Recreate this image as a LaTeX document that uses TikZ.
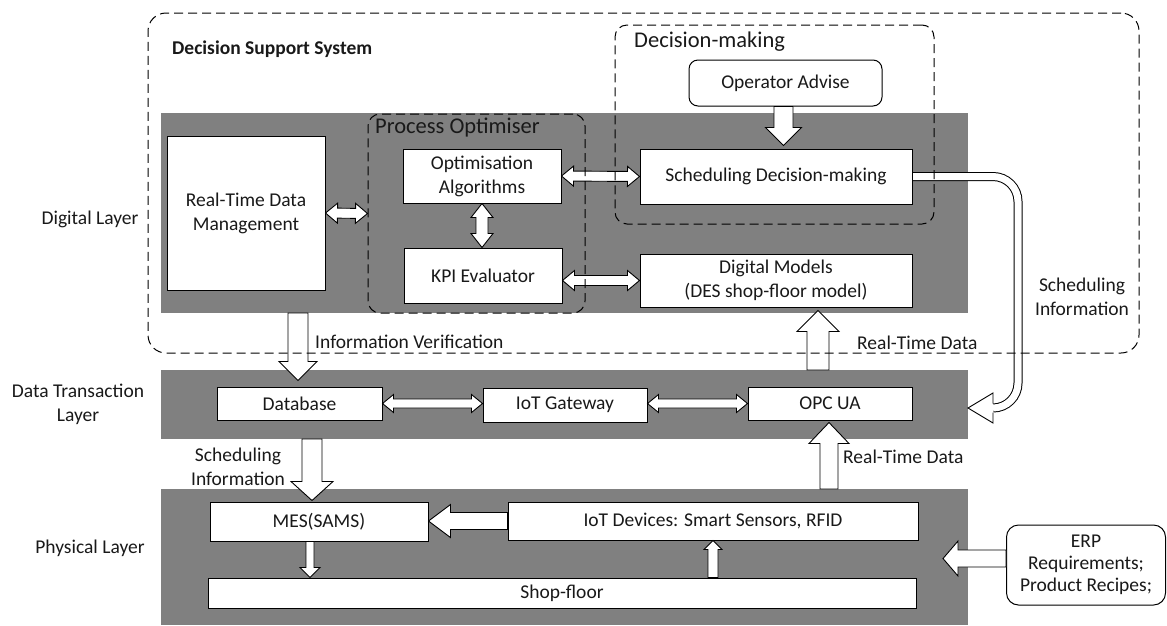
\documentclass[tikz,border=0pt]{standalone}
\usepackage{fontspec}
\setmainfont{Carlito}
\usetikzlibrary{calc}
\definecolor{bandgrey}{RGB}{128,128,128}
\newcommand\txtsz{\fontsize{19.5}{24}\selectfont}
\newcommand\ttlsz{\fontsize{22.5}{27}\selectfont}
\pgfdeclarelayer{front}
\pgfsetlayers{main,front}

% single block arrow: tail #1, tip #2, shaft half-width #3, head half-width #4, head length #5
\newcommand\blkarrow[5]{%
  \path ($(#2)!#5!(#1)$) coordinate (sac);
  \draw[blockarrow] ($(#1)!#3!90:(#2)$) -- ($(sac)!#3!90:(#2)$) -- ($(sac)!#4!90:(#2)$)
    -- (#2) -- ($(sac)!#4!-90:(#2)$) -- ($(sac)!#3!-90:(#2)$) -- ($(#1)!#3!-90:(#2)$) -- cycle;
}
% double-headed block arrow between #1 and #2
\newcommand\dblarrow[5]{%
  \path ($(#1)!#5!(#2)$) coordinate (dac1) ($(#2)!#5!(#1)$) coordinate (dac2);
  \draw[blockarrow] (#1) -- ($(dac1)!#4!90:(#2)$) -- ($(dac1)!#3!90:(#2)$) -- ($(dac2)!#3!90:(#2)$)
    -- ($(dac2)!#4!90:(#2)$) -- (#2) -- ($(dac2)!#4!-90:(#2)$) -- ($(dac2)!#3!-90:(#2)$)
    -- ($(dac1)!#3!-90:(#2)$) -- ($(dac1)!#4!-90:(#2)$) -- cycle;
}

\begin{document}
\begin{tikzpicture}[x=1pt,y=-1pt,
  band/.style={fill=bandgrey,draw=none,inner sep=0pt,outer sep=0pt},
  box/.style={draw=black,fill=white,line width=1pt,inner sep=0pt,align=center,font=\txtsz,text=black!90},
  roundbox/.style={box,rounded corners=9pt},
  frame/.style={draw=black,line width=1pt,dash pattern=on 9pt off 5pt,inner sep=0pt,rounded corners=#1},
  frame/.default=12pt,
  blockarrow/.style={draw=black,fill=white,line width=0.9pt,line join=miter},
  lbl/.style={font=\txtsz,inner sep=0pt,align=center,text=black!90},
]
\useasboundingbox (0,0) rectangle (1167,625);

% layer bands
\node[band,minimum width=807pt,minimum height=200pt] (dig) at (564.5,213) {};
\node[band,minimum width=807pt,minimum height=69pt] (dt) at (564.5,404.5) {};
\node[band,minimum width=807pt,minimum height=136pt] (phy) at (564.5,557) {};

% layer names
\node[lbl] (ldig) at (90,219) {Digital Layer};
\node[lbl] (ldt) at (78,404) {Data Transaction\\Layer};
\node[lbl] (lphy) at (90,548) {Physical Layer};

% dashed groupings (kept on top)
\begin{pgfonlayer}{front}
\node[frame=18pt,minimum width=991pt,minimum height=340pt] (dss) at (643.5,183) {};
\node[frame,minimum width=319pt,minimum height=199pt] (dmk) at (774.5,124.5) {};
\node[frame,minimum width=217pt,minimum height=199pt] (popt) at (476.5,213.5) {};
\end{pgfonlayer}
\node[anchor=west,font=\bfseries\txtsz,inner sep=0pt,text=black!90] (dsslbl) at (172,49) {Decision Support System};
\node[anchor=west,font=\ttlsz,inner sep=0pt,text=black!90] (poptlbl) at (375,128) {Process Optimiser};
\node[anchor=west,font=\ttlsz,inner sep=0pt,text=black!90] (dmklbl) at (634,42) {Decision-making};

% digital layer
\node[box,minimum width=158pt,minimum height=154pt] (rtdm) at (246,213) {Real-Time Data\\Management};
\node[box,minimum width=158pt,minimum height=54pt] (opt) at (482,176) {Optimisation\\Algorithms};
\node[box,minimum width=158pt,minimum height=55pt] (kpi) at (483,275.5) {KPI Evaluator};
\node[roundbox,minimum width=193pt,minimum height=46pt] (op) at (785.5,83) {Operator Advise};
\node[box,minimum width=272pt,minimum height=55pt] (sdm) at (776,176.5) {Scheduling Decision-making};
\node[box,minimum width=272pt,minimum height=53pt] (dm) at (776,280.5) {Digital Models\\(DES shop-floor model)};

% data transaction layer
\node[box,minimum width=165pt,minimum height=33pt] (db) at (299.5,403.5) {Database};
\node[box,minimum width=164pt,minimum height=34pt] (gw) at (565,405) {IoT Gateway};
\node[box,minimum width=164pt,minimum height=33pt] (opc) at (830,403.5) {OPC UA};

% physical layer
\node[box,minimum width=218pt,minimum height=39pt] (mes) at (319,521.5) {MES(SAMS)};
\node[box,minimum width=410pt,minimum height=38pt] (iot) at (713,521) {IoT Devices: Smart Sensors, RFID};
\node[box,minimum width=708pt,minimum height=30pt] (sf) at (562,593) {Shop-floor};
\node[roundbox,rounded corners=12pt,minimum width=159pt,minimum height=80pt,font=\fontsize{19.5}{22}\selectfont] (erp) at (1086,565) {ERP\\Requirements;\\Product Recipes;};

% two-way links
\dblarrow{rtdm.east}{popt.west}{5pt}{10pt}{12pt}
\coordinate (okB) at (opt.south |- kpi.north);
\dblarrow{opt.south}{okB}{6pt}{11pt}{14pt}
\dblarrow{opt.east}{sdm.west}{5pt}{10pt}{12pt}
\coordinate (kdA) at (kpi.east |- dm.west);
\dblarrow{kdA}{dm.west}{5pt}{10pt}{12pt}
\coordinate (dgB) at (db.east -| gw.west);
\dblarrow{db.east}{dgB}{4.5pt}{9pt}{11pt}
\coordinate (goA) at (opc.west -| gw.east);
\dblarrow{goA}{opc.west}{4.5pt}{9pt}{11pt}

% one-way flows
\coordinate (oaA) at ($(op.south)+(-2,0)$);
\coordinate (oaB) at ($(oaA |- sdm.north)+(0,-3)$);
\blkarrow{oaA}{oaB}{9.5pt}{18pt}{18pt}
\coordinate (ivA) at ($(dig.south -| db.north)+(-1.5,0)$);
\coordinate (ivB) at ($(db.north)+(-1.5,-6)$);
\blkarrow{ivA}{ivB}{10pt}{19pt}{19pt}
\coordinate (rtuA) at ($(dt.north -| dm.south)+(42,0)$);
\coordinate (rtuB) at ($(dm.south)+(42,3)$);
\blkarrow{rtuA}{rtuB}{11pt}{21pt}{21pt}
\coordinate (rtlA) at ($(phy.north -| opc.south)+(-1,0)$);
\coordinate (rtlB) at ($(opc.south)+(-1,2)$);
\blkarrow{rtlA}{rtlB}{9pt}{20pt}{21pt}
\coordinate (siA) at ($(dt.south -| mes.north)+(-7,0)$);
\coordinate (siB) at ($(mes.north)+(-7,-1)$);
\blkarrow{siA}{siB}{10pt}{21pt}{19pt}
\coordinate (imB) at (mes.east |- iot.west);
\blkarrow{iot.west}{imB}{8.5pt}{16.5pt}{22pt}
\coordinate (msA) at ($(mes.south)+(-9,0)$);
\coordinate (msB) at (msA |- sf.north);
\blkarrow{msA}{msB}{4pt}{10pt}{10pt}
\coordinate (suA) at (sf.north -| iot.south);
\blkarrow{suA}{iot.south}{5pt}{9pt}{9pt}
\coordinate (erA) at ($(erp.west)+(0,-6.5)$);
\coordinate (erB) at ($(erA -| phy.east)+(-25,0)$);
\blkarrow{erA}{erB}{8.5pt}{17.5pt}{15pt}

% hollow scheduling feedback from decision-making down to OPC UA
\coordinate (scK1) at ($(sdm.east)+(105.5,0)$);
\coordinate (scK2) at (scK1 |- 0,408);
\coordinate (scB) at (dt.east |- scK2);
\coordinate (scH) at ($(scB)+(25,0)$);
\draw[line width=9pt,black,rounded corners=25pt] (sdm.east) -- (scK1) -- (scK2) -- (scH);
\draw[line width=7pt,white,rounded corners=25pt] ($(sdm.east)+(0.6,0)$) -- (scK1) -- (scK2) -- (scH);
\draw[blockarrow] ($(scH)+(0,-4.5)$) -- ($(scH)+(0,-15)$) -- (scB) -- ($(scH)+(0,15)$) -- ($(scH)+(0,4.5)$);

% flow labels
\node[lbl,anchor=west] (livf) at (315,342) {Information Verification};
\node[lbl,anchor=west] (lrtu) at (857,343) {Real-Time Data};
\node[lbl,anchor=west] (lrtl) at (843,457) {Real-Time Data};
\node[lbl] (lsil) at (238,467) {Scheduling\\Information};
\node[lbl] (lsir) at (1082,297) {Scheduling\\Information};
\end{tikzpicture}
\end{document}
